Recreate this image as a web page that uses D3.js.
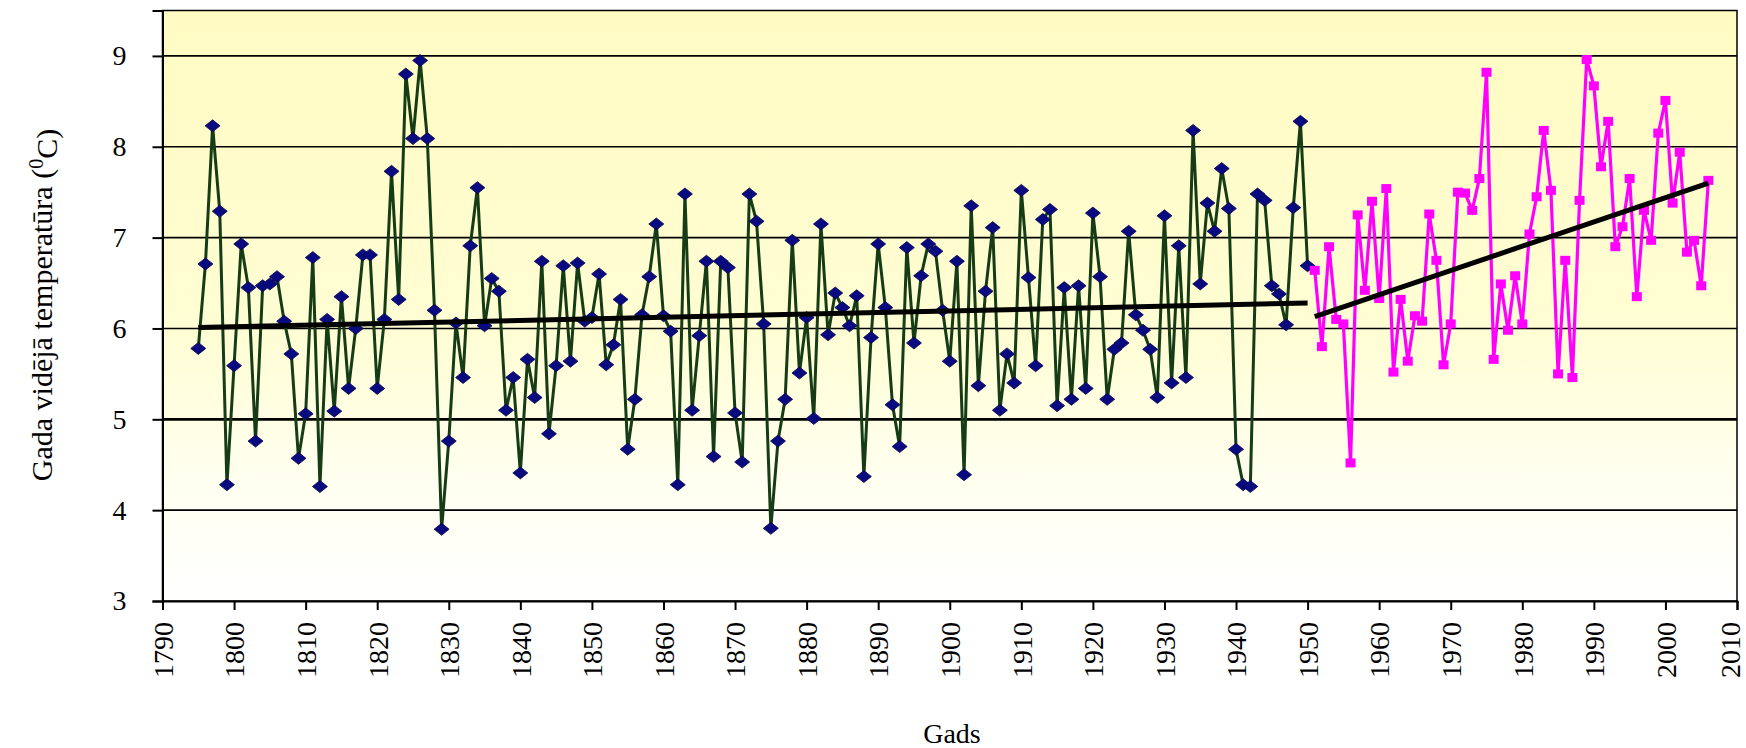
<!DOCTYPE html>
<html>
<head>
<meta charset="utf-8">
<script src="https://cdn.jsdelivr.net/npm/d3@7"></script>
<style>
html, body { margin: 0; padding: 0; background: #fff; }
svg text { font-family: "Liberation Serif", "Times New Roman", serif; fill: #000; }
</style>
</head>
<body>
<svg id="chart" width="1746" height="748"></svg>
<script>
// annual mean temperature, 1795-1950 (blue diamonds)
const oldStart = 1795
const oldTemps = [
    5.78, 6.71, 8.23, 7.29, 4.28, 5.59, 6.93, 6.45, 4.76, 6.47,
    6.49, 6.57, 6.08, 5.72, 4.57, 5.06, 6.78, 4.26, 6.10, 5.09,
    6.35, 5.34, 6.00, 6.81, 6.81, 5.34, 6.10, 7.73, 6.32, 8.80,
    8.09, 8.95, 8.09, 6.20, 3.79, 4.76, 6.06, 5.46, 6.91, 7.55,
    6.03, 6.55, 6.41, 5.10, 5.46, 4.41, 5.66, 5.24, 6.74, 4.84,
    5.59, 6.69, 5.64, 6.72, 6.08, 6.12, 6.60, 5.60, 5.82, 6.32,
    4.67, 5.22, 6.15, 6.57, 7.15, 6.14, 5.97, 4.28, 7.48, 5.10,
    5.92, 6.74, 4.59, 6.74, 6.67, 5.07, 4.53, 7.48, 7.18, 6.05,
    3.80, 4.76, 5.22, 6.97, 5.51, 6.12, 5.01, 7.15, 5.93, 6.39,
    6.23, 6.03, 6.36, 4.37, 5.90, 6.93, 6.23, 5.16, 4.70, 6.89,
    5.84, 6.58, 6.93, 6.85, 6.20, 5.64, 6.74, 4.39, 7.35, 5.37,
    6.41, 7.11, 5.10, 5.72, 5.40, 7.52, 6.56, 5.59, 7.20, 7.31,
    5.15, 6.45, 5.22, 6.47, 5.34, 7.27, 6.57, 5.22, 5.77, 5.84,
    7.07, 6.15, 5.98, 5.77, 5.24, 7.24, 5.40, 6.91, 5.46, 8.18,
    6.49, 7.38, 7.07, 7.76, 7.32, 4.67, 4.28, 4.26, 7.48, 7.41,
    6.47, 6.38, 6.04, 7.33, 8.28, 6.69
]

// annual mean temperature, 1951-2006 (magenta squares)
const newStart = 1951
const newTemps = [
    6.64, 5.80, 6.90, 6.10, 6.05, 4.52, 7.25, 6.42, 7.40, 6.33,
    7.54, 5.52, 6.32, 5.64, 6.14, 6.08, 7.26, 6.75, 5.60, 6.05,
    7.50, 7.49, 7.30, 7.65, 8.82, 5.66, 6.49, 5.98, 6.58, 6.05,
    7.04, 7.45, 8.18, 7.52, 5.50, 6.75, 5.46, 7.41, 8.96, 8.67,
    7.78, 8.28, 6.90, 7.12, 7.65, 6.35, 7.30, 6.97, 8.15, 8.51,
    7.38, 7.94, 6.84, 6.97, 6.47, 7.63
]

// linear trends
const oldTrend = [{year: 1795, t: 6.01}, {year: 1950, t: 6.28}]
const newTrend = [{year: 1951, t: 6.13}, {year: 2006, t: 7.60}]

const yearTicks = [1790, 1800, 1810, 1820, 1830, 1840, 1850, 1860, 1870, 1880, 1890,
                   1900, 1910, 1920, 1930, 1940, 1950, 1960, 1970, 1980, 1990, 2000, 2010]
const tempTicks = [3, 4, 5, 6, 7, 8, 9]

const oldData = oldTemps.map((t, i) => ({year: oldStart + i, t}))
const newData = newTemps.map((t, i) => ({year: newStart + i, t}))

let svg = d3.select("#chart")

let x = d3.scaleLinear().domain([1790, 2010]).range([162.5, 1737])
let y = d3.scaleLinear().domain([3, 9.5]).range([601, 10.5])

// plot background: pale yellow fading to white
let grad = svg.append("defs").append("linearGradient")
    .attr("id", "bg").attr("x1", 0).attr("y1", 0).attr("x2", 0).attr("y2", 1)
grad.append("stop").attr("offset", "0%").attr("stop-color", "#fffbc2")
grad.append("stop").attr("offset", "55%").attr("stop-color", "#fffdd4")
grad.append("stop").attr("offset", "80%").attr("stop-color", "#fffff0")
grad.append("stop").attr("offset", "100%").attr("stop-color", "#ffffff")

svg.append("rect")
    .attr("x", x(1790)).attr("y", y(9.5))
    .attr("width", x(2010) - x(1790)).attr("height", y(3) - y(9.5))
    .attr("fill", "url(#bg)")
    .attr("stroke", "#000").attr("stroke-width", 1.5)

// gridlines
svg.append("g")
    .selectAll("line")
    .data(tempTicks.filter(t => t > 3))
    .enter().append("line")
    .attr("x1", x(1790)).attr("x2", x(2010))
    .attr("y1", d => y(d)).attr("y2", d => y(d))
    .attr("stroke", "#000")
    .attr("stroke-width", d => d === 5 ? 2.8 : 1.6)

// axes
let yAxis = svg.append("g")
    .attr("transform", "translate(" + x(1790) + ",0)")
    .call(d3.axisLeft(y).tickValues(tempTicks).tickSize(10).tickPadding(26).tickFormat(d3.format("d")))
yAxis.selectAll("text").style("font-size", "28px")

let xAxis = svg.append("g")
    .attr("transform", "translate(0," + y(3) + ")")
    .call(d3.axisBottom(x).tickValues(yearTicks).tickSize(9).tickFormat(d3.format("d")))
xAxis.selectAll("text")
    .attr("transform", "rotate(-90)")
    .attr("x", -21).attr("y", 0)
    .attr("dy", d => d === 2010 ? "0.1em" : "0.35em")
    .style("text-anchor", "end")
    .style("font-size", "28px")

svg.selectAll(".domain").attr("stroke", "#000").attr("stroke-width", 2)
svg.selectAll(".tick line").attr("stroke", "#000").attr("stroke-width", 2)

// series lines
let line = d3.line().x(d => x(d.year)).y(d => y(d.t))

svg.append("path")
    .datum(oldData)
    .attr("d", line)
    .attr("fill", "none")
    .attr("stroke", "#153c15")
    .attr("stroke-width", 3)

svg.append("path")
    .datum(newData)
    .attr("d", line)
    .attr("fill", "none")
    .attr("stroke", "#ff00ff")
    .attr("stroke-width", 3.2)

// markers
svg.append("g")
    .selectAll("path")
    .data(oldData)
    .enter().append("path")
    .attr("d", "M0,-6L7.5,0L0,6L-7.5,0Z")
    .attr("transform", d => "translate(" + x(d.year) + "," + y(d.t) + ")")
    .attr("fill", "#0a0a80")
    .attr("stroke", "#06064a")
    .attr("stroke-width", 0.8)

svg.append("g")
    .selectAll("rect")
    .data(newData)
    .enter().append("rect")
    .attr("x", d => x(d.year) - 5)
    .attr("y", d => y(d.t) - 4.5)
    .attr("width", 10).attr("height", 9)
    .attr("fill", "#ff00ff")

// trend lines
for (let tr of [oldTrend, newTrend]) {
    svg.append("path")
        .datum(tr)
        .attr("d", line)
        .attr("fill", "none")
        .attr("stroke", "#000")
        .attr("stroke-width", 5)
}

// axis titles
let yTitle = svg.append("text")
    .attr("transform", "translate(52,305) rotate(-90)")
    .style("text-anchor", "middle")
    .style("font-size", "30px")
yTitle.append("tspan").text("Gada vidējā temperatūra (")
yTitle.append("tspan").attr("dy", "-0.45em").style("font-size", "20px").text("0")
yTitle.append("tspan").attr("dy", "0.45em").text("C)")

svg.append("text")
    .attr("x", 952).attr("y", 743)
    .style("text-anchor", "middle")
    .style("font-size", "28px")
    .text("Gads")
</script>
</body>
</html>
